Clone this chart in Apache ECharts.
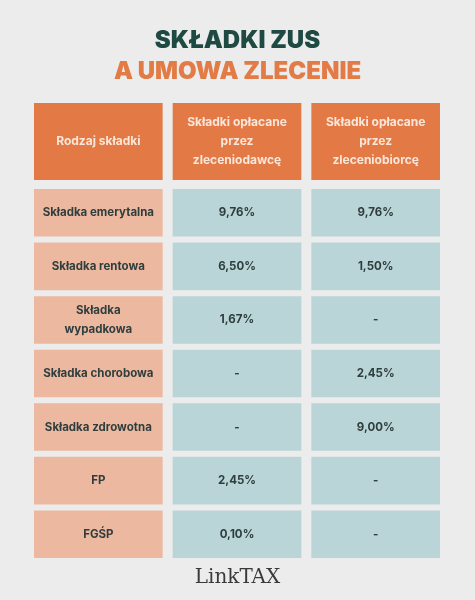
<!DOCTYPE html>
<html><head><meta charset="utf-8">
<script src="https://cdn.jsdelivr.net/npm/echarts@6/dist/echarts.min.js"></script>
<style>html,body{margin:0;background:#ececec}#c{width:475px;height:600px}</style>
</head><body><div id="c"></div>
<script>
const columns = ['Rodzaj składki', 'Składki opłacane\nprzez\nzleceniodawcę', 'Składki opłacane\nprzez\nzleceniobiorcę'];
const rows = ['Składka emerytalna', 'Składka rentowa', 'Składka\nwypadkowa', 'Składka chorobowa', 'Składka zdrowotna', 'FP', 'FGŚP'];
const employer = ['9,76%', '6,50%', '1,67%', '-', '-', '2,45%', '0,10%'];
const employee = ['9,76%', '1,50%', '-', '2,45%', '9,00%', '-', '-'];

const FONT = 'Inter, Roboto, sans-serif';
const headerData = columns.map((c, i) => [i, 0, c]);
const bodyData = [];
rows.forEach((r, j) => {
  bodyData.push([0, j, r]);
  bodyData.push([1, j, employer[j]]);
  bodyData.push([2, j, employee[j]]);
});
function cell(fillFn, gapX, gapY, textStyleFn) {
  return function (params, api) {
    const c = api.coord([api.value(0), api.value(1)]);
    const s = api.size([1, 1]);
    const w = s[0] - gapX, h = s[1] - gapY;
    const col = api.value(0);
    return {
      type: 'group',
      children: [
        { type: 'rect', shape: { x: c[0] - w / 2, y: c[1] - h / 2, width: w, height: h },
          style: { fill: fillFn(col) } },
        { type: 'text', x: c[0], y: c[1],
          style: Object.assign({ text: api.value(2), align: 'center', verticalAlign: 'middle',
            fontFamily: FONT, fontWeight: 'bold', lineHeight: 19 }, textStyleFn(col)) }
      ]
    };
  };
}
const chart = echarts.init(document.getElementById('c'));
chart.setOption({
  backgroundColor: '#ececec',
  title: [
    { text: 'SKŁADKI ZUS', left: 'center', top: 24, textStyle: { color: '#1f4a44', fontSize: 24, fontWeight: 900, fontFamily: FONT } },
    { text: 'A UMOWA ZLECENIE', left: 'center', top: 55, textStyle: { color: '#e27b45', fontSize: 24, fontWeight: 900, fontFamily: FONT } }
  ],
  grid: [
    { left: 29, right: 30, top: 103, height: 77 },
    { left: 29, right: 30, top: 186, bottom: 39 }
  ],
  xAxis: [
    { type: 'category', gridIndex: 0, data: [0, 1, 2], show: false },
    { type: 'category', gridIndex: 1, data: [0, 1, 2], show: false }
  ],
  yAxis: [
    { type: 'category', gridIndex: 0, data: [0], show: false },
    { type: 'category', gridIndex: 1, data: rows.map((r, i) => i), inverse: true, show: false }
  ],
  series: [
    { type: 'custom', xAxisIndex: 0, yAxisIndex: 0, data: headerData,
      renderItem: cell(() => '#e37a45', 10, 0, () => ({ fill: '#fbe6da', fontSize: 12 })) },
    { type: 'custom', xAxisIndex: 1, yAxisIndex: 1, data: bodyData,
      renderItem: cell(col => col === 0 ? '#ecb9a0' : '#b9d5d7', 10, 6, () => ({ fill: '#2f3d3d', fontSize: 11.5 })) }
  ],
  graphic: [
    { type: 'text', left: 'center', top: 568, style: { text: 'LinkTAX', fill: '#3a3a3a', fontSize: 20, fontFamily: 'DejaVu Serif, Liberation Serif, serif' } }
  ]
});
</script></body></html>
